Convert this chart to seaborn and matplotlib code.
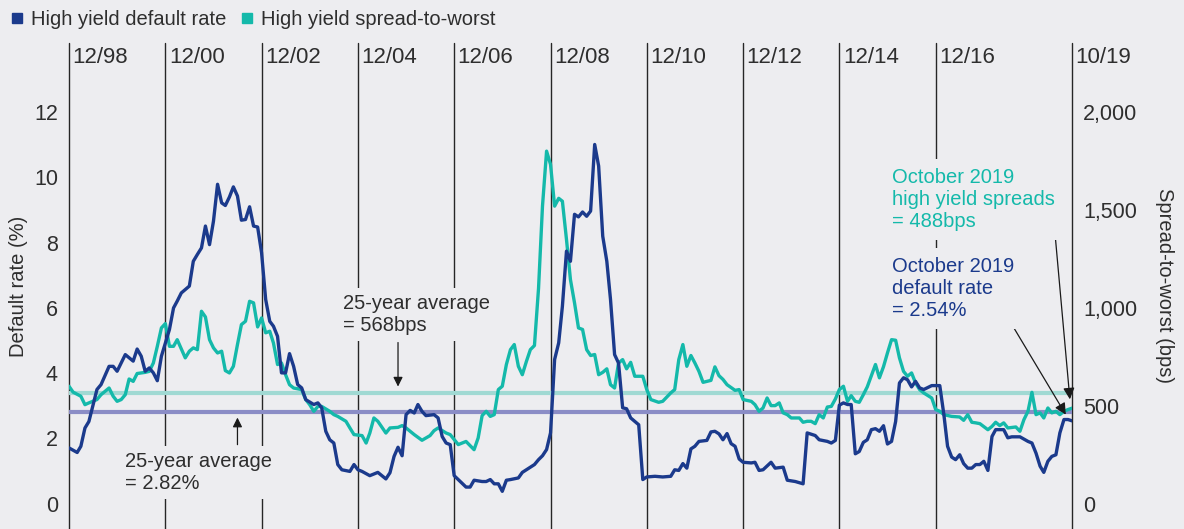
import matplotlib
matplotlib.use("Agg")
import matplotlib.pyplot as plt
from matplotlib import transforms
from matplotlib.lines import Line2D
from matplotlib.ticker import FuncFormatter
import pandas as pd
import seaborn as sns

# High yield default rate (%)
default_dates = [
    "1998-12", "1999-02", "1999-03", "1999-04", "1999-05", "1999-07", "1999-08", "1999-10",
    "1999-11", "1999-12", "2000-02", "2000-04", "2000-05", "2000-06", "2000-07", "2000-08",
    "2000-09", "2000-10", "2000-11", "2001-01", "2001-02", "2001-03", "2001-04", "2001-06",
    "2001-07", "2001-08", "2001-09", "2001-10", "2001-11", "2001-12", "2002-01", "2002-02",
    "2002-03", "2002-04", "2002-05", "2002-06", "2002-07", "2002-08", "2002-09", "2002-10",
    "2002-11", "2002-12", "2003-01", "2003-02", "2003-03", "2003-04", "2003-05", "2003-06",
    "2003-07", "2003-08", "2003-09", "2003-10", "2003-11", "2004-01", "2004-02", "2004-03",
    "2004-04", "2004-05", "2004-06", "2004-07", "2004-08", "2004-10", "2004-11", "2004-12",
    "2005-01", "2005-03", "2005-05", "2005-07", "2005-08", "2005-09", "2005-10", "2005-11",
    "2005-12", "2006-01", "2006-02", "2006-03", "2006-04", "2006-05", "2006-07", "2006-08",
    "2006-09", "2006-10", "2006-11", "2006-12", "2007-01", "2007-03", "2007-04", "2007-05",
    "2007-07", "2007-08", "2007-09", "2007-10", "2007-11", "2007-12", "2008-01", "2008-02",
    "2008-04", "2008-05", "2008-06", "2008-08", "2008-09", "2008-10", "2008-11", "2008-12",
    "2009-01", "2009-02", "2009-03", "2009-04", "2009-05", "2009-06", "2009-07", "2009-08",
    "2009-09", "2009-10", "2009-11", "2009-12", "2010-01", "2010-02", "2010-03", "2010-04",
    "2010-05", "2010-06", "2010-07", "2010-08", "2010-10", "2010-11", "2010-12", "2011-02",
    "2011-04", "2011-06", "2011-07", "2011-08", "2011-09", "2011-10", "2011-11", "2011-12",
    "2012-01", "2012-03", "2012-04", "2012-05", "2012-06", "2012-07", "2012-08", "2012-09",
    "2012-10", "2012-11", "2012-12", "2013-02", "2013-03", "2013-04", "2013-05", "2013-07",
    "2013-08", "2013-10", "2013-11", "2014-01", "2014-03", "2014-04", "2014-06", "2014-07",
    "2014-09", "2014-10", "2014-11", "2014-12", "2015-01", "2015-02", "2015-03", "2015-04",
    "2015-05", "2015-06", "2015-07", "2015-08", "2015-09", "2015-10", "2015-11", "2015-12",
    "2016-01", "2016-02", "2016-03", "2016-04", "2016-05", "2016-06", "2016-07", "2016-08",
    "2016-09", "2016-11", "2017-01", "2017-02", "2017-03", "2017-04", "2017-05", "2017-06",
    "2017-07", "2017-08", "2017-09", "2017-10", "2017-11", "2017-12", "2018-01", "2018-02",
    "2018-03", "2018-05", "2018-06", "2018-07", "2018-09", "2018-11", "2018-12", "2019-01",
    "2019-02", "2019-03", "2019-04", "2019-05", "2019-06", "2019-07", "2019-08", "2019-09",
    "2019-10",
]
default_rate = [
    1.71, 1.57, 1.76, 2.32, 2.52, 3.50, 3.65, 4.21,
    4.21, 4.06, 4.57, 4.37, 4.74, 4.52, 4.06, 4.16,
    4.01, 3.77, 4.52, 5.34, 6.00, 6.21, 6.46, 6.67,
    7.43, 7.64, 7.84, 8.51, 7.94, 8.66, 9.79, 9.22,
    9.14, 9.40, 9.71, 9.43, 8.69, 8.71, 9.10, 8.51,
    8.48, 7.69, 6.26, 5.59, 5.44, 5.13, 4.01, 4.01,
    4.60, 4.21, 3.65, 3.55, 3.19, 3.04, 3.09, 2.94,
    2.22, 1.96, 1.86, 1.20, 1.04, 0.99, 1.20, 1.04,
    0.99, 0.86, 0.96, 0.76, 0.95, 1.45, 1.73, 1.47,
    2.73, 2.86, 2.78, 3.04, 2.83, 2.70, 2.73, 2.63,
    2.06, 1.86, 1.81, 0.86, 0.74, 0.51, 0.51, 0.72,
    0.68, 0.68, 0.74, 0.61, 0.61, 0.38, 0.72, 0.74,
    0.79, 0.96, 1.04, 1.20, 1.35, 1.47, 1.66, 2.17,
    4.42, 4.93, 6.05, 7.74, 7.43, 8.87, 8.79, 8.94,
    8.81, 8.97, 11.01, 10.35, 8.20, 7.43, 6.26, 4.57,
    4.31, 2.94, 2.91, 2.63, 2.42, 0.74, 0.82, 0.84,
    0.82, 0.84, 1.04, 1.02, 1.23, 1.09, 1.68, 1.76,
    1.91, 1.94, 2.20, 2.22, 2.14, 1.96, 2.15, 1.84,
    1.76, 1.37, 1.27, 1.25, 1.27, 1.02, 1.04, 1.27,
    1.09, 1.12, 0.72, 0.68, 0.61, 2.17, 2.09, 1.96,
    1.91, 1.86, 1.94, 3.02, 3.09, 3.04, 3.04, 1.53,
    1.60, 1.88, 1.96, 2.27, 2.30, 2.22, 2.39, 1.83,
    1.91, 2.52, 3.70, 3.86, 3.80, 3.58, 3.75, 3.55,
    3.50, 3.62, 3.62, 2.73, 1.76, 1.43, 1.35, 1.50,
    1.23, 1.09, 1.09, 1.20, 1.20, 1.30, 1.02, 2.06,
    2.27, 2.27, 2.02, 2.05, 2.05, 1.91, 1.86, 1.55,
    1.15, 0.96, 1.30, 1.45, 1.50, 2.17, 2.58, 2.58,
    2.54,
]

# High yield spread-to-worst (bps)
spread_dates = [
    "1998-12", "1999-01", "1999-03", "1999-04", "1999-05", "1999-07", "1999-08", "1999-10",
    "1999-11", "1999-12", "2000-01", "2000-02", "2000-03", "2000-04", "2000-05", "2000-07",
    "2000-08", "2000-09", "2000-10", "2000-11", "2000-12", "2001-01", "2001-02", "2001-03",
    "2001-05", "2001-06", "2001-07", "2001-08", "2001-09", "2001-10", "2001-11", "2001-12",
    "2002-01", "2002-02", "2002-03", "2002-04", "2002-05", "2002-06", "2002-07", "2002-08",
    "2002-09", "2002-10", "2002-11", "2002-12", "2003-01", "2003-02", "2003-03", "2003-04",
    "2003-05", "2003-06", "2003-07", "2003-08", "2003-10", "2003-11", "2003-12", "2004-01",
    "2004-02", "2004-03", "2004-05", "2004-06", "2004-07", "2004-09", "2004-10", "2004-11",
    "2005-01", "2005-02", "2005-03", "2005-04", "2005-05", "2005-07", "2005-08", "2005-10",
    "2005-11", "2005-12", "2006-02", "2006-04", "2006-06", "2006-07", "2006-08", "2006-10",
    "2006-11", "2007-01", "2007-03", "2007-05", "2007-06", "2007-07", "2007-08", "2007-09",
    "2007-10", "2007-11", "2007-12", "2008-01", "2008-02", "2008-03", "2008-04", "2008-05",
    "2008-06", "2008-07", "2008-08", "2008-09", "2008-10", "2008-11", "2008-12", "2009-01",
    "2009-02", "2009-03", "2009-04", "2009-05", "2009-06", "2009-07", "2009-08", "2009-09",
    "2009-10", "2009-11", "2009-12", "2010-01", "2010-02", "2010-03", "2010-04", "2010-05",
    "2010-06", "2010-07", "2010-08", "2010-09", "2010-11", "2010-12", "2011-01", "2011-03",
    "2011-04", "2011-06", "2011-07", "2011-08", "2011-09", "2011-10", "2011-11", "2011-12",
    "2012-01", "2012-02", "2012-04", "2012-05", "2012-06", "2012-07", "2012-08", "2012-10",
    "2012-11", "2012-12", "2013-02", "2013-03", "2013-04", "2013-05", "2013-06", "2013-07",
    "2013-08", "2013-09", "2013-10", "2013-11", "2013-12", "2014-02", "2014-03", "2014-04",
    "2014-05", "2014-06", "2014-07", "2014-08", "2014-09", "2014-10", "2014-11", "2014-12",
    "2015-01", "2015-02", "2015-03", "2015-04", "2015-05", "2015-06", "2015-07", "2015-09",
    "2015-10", "2015-11", "2015-12", "2016-01", "2016-02", "2016-03", "2016-04", "2016-05",
    "2016-06", "2016-07", "2016-08", "2016-09", "2016-11", "2016-12", "2017-01", "2017-02",
    "2017-04", "2017-06", "2017-07", "2017-08", "2017-09", "2017-10", "2017-11", "2018-01",
    "2018-02", "2018-03", "2018-04", "2018-05", "2018-06", "2018-08", "2018-09", "2018-10",
    "2018-11", "2018-12", "2019-01", "2019-02", "2019-03", "2019-04", "2019-05", "2019-06",
    "2019-07", "2019-08", "2019-09", "2019-10",
]
spread_bps = [
    600, 570, 549, 506, 515, 532, 557, 591,
    549, 523, 532, 557, 637, 625, 665, 671,
    676, 719, 804, 898, 920, 804, 804, 838,
    745, 779, 796, 787, 983, 954, 838, 796,
    770, 779, 680, 668, 702, 813, 915, 932,
    1034, 1026, 903, 949, 873, 881, 821, 711,
    719, 659, 608, 591, 583, 532, 506, 472,
    497, 497, 472, 455, 446, 421, 387, 353,
    348, 310, 361, 438, 421, 361, 387, 390,
    399, 387, 353, 324, 348, 373, 387, 361,
    353, 302, 318, 276, 336, 450, 472, 446,
    455, 583, 600, 711, 787, 813, 702, 659,
    727, 787, 808, 1100, 1520, 1801, 1733, 1520,
    1560, 1545, 1350, 1145, 1026, 898, 890, 787,
    757, 762, 659, 671, 689, 608, 591, 719,
    736, 689, 722, 651, 651, 583, 532, 518,
    523, 566, 583, 736, 813, 702, 757, 719,
    676, 620, 630, 699, 654, 635, 608, 579,
    583, 532, 523, 506, 472, 489, 540, 501,
    501, 515, 464, 455, 438, 438, 416, 421,
    421, 409, 455, 438, 494, 497, 535, 583,
    600, 523, 552, 523, 518, 557, 597, 711,
    643, 700, 770, 838, 835, 745, 676, 651,
    668, 617, 583, 566, 540, 481, 472, 455,
    446, 443, 426, 455, 416, 413, 409, 378,
    395, 416, 399, 413, 387, 392, 370, 429,
    472, 569, 455, 464, 438, 489, 464, 472,
    455, 472, 481, 488,
]

line_dates = ["1998-12", "2000-12", "2002-12", "2004-12", "2006-12", "2008-12",
              "2010-12", "2012-12", "2014-12", "2016-12", "2019-10"]
line_labels = ["12/98", "12/00", "12/02", "12/04", "12/06", "12/08",
               "12/10", "12/12", "12/14", "12/16", "10/19"]

avg_default = 2.82
avg_spread = 568
left_ticks = [0, 2, 4, 6, 8, 10, 12]
right_ticks = [0, 500, 1000, 1500, 2000]

BG = "#ededf0"
NAVY = "#1b3a8c"
TEAL = "#14b9aa"
TEAL_AVG = "#a0d9d3"
PURPLE_AVG = "#8b8dc6"
TXT = "#2e2e2e"

sns.set_style("white")
plt.rcParams["font.family"] = ["Liberation Sans", "DejaVu Sans"]
plt.rcParams["text.color"] = TXT

df_default = pd.DataFrame({"date": pd.to_datetime(default_dates, format="%Y-%m"),
                           "rate": default_rate})
df_spread = pd.DataFrame({"date": pd.to_datetime(spread_dates, format="%Y-%m"),
                          "spread": spread_bps})
vline_dates = pd.to_datetime(line_dates, format="%Y-%m")

fig = plt.figure(figsize=(11.84, 5.29), dpi=100, facecolor=BG)
ax = fig.add_axes([69 / 1184, 0, 1003 / 1184, 486 / 529])
ax2 = ax.twinx()

# navy series on the left axis, which sits on top
sns.lineplot(data=df_default, x="date", y="rate", ax=ax, color=NAVY,
             linewidth=2.4, estimator=None, zorder=5)
# teal series, averages and year lines on the right axis (drawn underneath)
for d in vline_dates:
    ax2.axvline(d, color="#262626", lw=1.0, zorder=1, clip_on=False)
ax2.axhline(avg_spread, color=TEAL_AVG, lw=3.0, zorder=2)
tr = transforms.blended_transform_factory(ax2.transAxes, ax.transData)
ax2.plot([0, 1], [avg_default, avg_default], transform=tr, color=PURPLE_AVG,
         lw=3.0, zorder=2)
sns.lineplot(data=df_spread, x="date", y="spread", ax=ax2, color=TEAL,
             linewidth=2.4, estimator=None, zorder=3)

ax.set_zorder(ax2.get_zorder() + 1)
ax.patch.set_visible(False)
ax2.patch.set_visible(False)

ax.set_xlim(vline_dates[0], vline_dates[-1])
ymin, ymax = -0.775, 14.12
ax.set_ylim(ymin, ymax)
ax2.set_ylim(ymin * 500 / 3, ymax * 500 / 3)

ax.set_xticks([])
ax.set_xlabel("")
ax.set_yticks(left_ticks)
ax.set_yticklabels([str(t) for t in left_ticks])
ax2.set_yticks(right_ticks)
ax2.yaxis.set_major_formatter(FuncFormatter(lambda v, p: f"{v:,.0f}"))
ax.tick_params(axis="y", length=0, pad=8, labelsize=15.5, labelcolor=TXT)
ax2.tick_params(axis="y", length=0, pad=8, labelsize=15.5, labelcolor=TXT)
for a in (ax, ax2):
    for s in a.spines.values():
        s.set_visible(False)

ax.set_ylabel("Default rate (%)", fontsize=14.5, color=TXT)
ax.yaxis.set_label_coords(-0.041, 0.5)
ax2.set_ylabel("Spread-to-worst (bps)", fontsize=14.5, color=TXT,
               rotation=270, va="bottom")
ax2.yaxis.set_label_coords(1.0828, 0.5)

# date labels at the top of each line
for d, lab in zip(vline_dates, line_labels):
    ax.annotate(lab, xy=(d, 0.971), xycoords=("data", "axes fraction"),
                xytext=(2.5, 0), textcoords="offset points",
                ha="left", va="center", fontsize=16, color=TXT)

box = dict(boxstyle="square,pad=0.3", facecolor=BG, edgecolor="none")
arrow = dict(arrowstyle="-|>", color="#1a1a1a", lw=0.9, mutation_scale=14,
             shrinkA=0, shrinkB=0)
arrow_big = dict(arrowstyle="-|>", color="#1a1a1a", lw=0.9, mutation_scale=17,
                 shrinkA=0, shrinkB=0)

ax.text(pd.Timestamp("2004-08-10"), 5.80, "25-year average\n= 568bps",
        ha="left", va="center", fontsize=14.5, color=TXT, bbox=box, zorder=6)
ax.annotate("", xy=(pd.Timestamp("2005-10-01"), 3.59),
            xytext=(pd.Timestamp("2005-10-01"), 4.94), arrowprops=arrow)

ax.text(pd.Timestamp("2000-02-01"), 0.95, "25-year average\n= 2.82%",
        ha="left", va="center", fontsize=14.5, color=TXT, bbox=box, zorder=6)
ax.annotate("", xy=(pd.Timestamp("2002-06-01"), 2.64),
            xytext=(pd.Timestamp("2002-06-01"), 1.81), arrowprops=arrow)

box2 = dict(boxstyle="square,pad=0.45", facecolor=BG, edgecolor="none")
ax.text(pd.Timestamp("2016-01-01"), 9.33, "October 2019\nhigh yield spreads\n= 488bps",
        ha="left", va="center", fontsize=14.5, color=TEAL, bbox=box2, zorder=6)
ax.text(pd.Timestamp("2016-01-01"), 6.60, "October 2019\ndefault rate\n= 2.54%",
        ha="left", va="center", fontsize=14.5, color=NAVY, bbox=box2, zorder=6)
ax.annotate("", xy=(pd.Timestamp("2019-09-15"), 3.20),
            xytext=(pd.Timestamp("2019-05-10"), 8.96), arrowprops=arrow_big)
ax.annotate("", xy=(pd.Timestamp("2019-08-15"), 2.73),
            xytext=(pd.Timestamp("2018-03-01"), 6.32), arrowprops=arrow_big)

handles = [Line2D([], [], marker="s", linestyle="none", markersize=7.2,
                  markerfacecolor=NAVY, markeredgecolor=NAVY),
           Line2D([], [], marker="s", linestyle="none", markersize=7.2,
                  markerfacecolor=TEAL, markeredgecolor=TEAL)]
fig.legend(handles, ["High yield default rate", "High yield spread-to-worst"],
           loc="center left", bbox_to_anchor=(11 / 1184, 1 - 19.7 / 529), ncol=2,
           frameon=False, fontsize=14.5, handlelength=0.6, handletextpad=0.4,
           columnspacing=0.7, borderpad=0, borderaxespad=0, labelcolor=TXT)

fig.savefig("out.png", dpi=100, facecolor=BG)
